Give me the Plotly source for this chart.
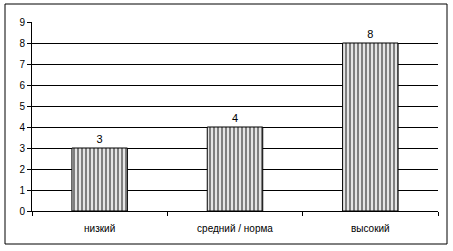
import plotly.graph_objects as go

categories = ["низкий", "средний / норма", "высокий"]
values = [3, 4, 8]
y_ticks = [0, 1, 2, 3, 4, 5, 6, 7, 8, 9]
grid_ticks = [1, 2, 3, 4, 5, 6, 7, 8]

W, H = 453, 251
ml, mr, mt, mb = 32, 15, 22, 40
pw, ph = W - ml - mr, H - mt - mb

fig = go.Figure()
# invisible trace to drive the grid axis (drawn beneath)
fig.add_trace(go.Scatter(x=categories, y=values, yaxis="y", mode="markers",
                         marker=dict(opacity=0), hoverinfo="skip", showlegend=False))
fig.add_trace(go.Bar(
    x=categories, y=values, yaxis="y2",
    width=0.41,
    marker=dict(color="white", line=dict(color="black", width=1),
                pattern=dict(shape="|", size=4, solidity=0.6, fgcolor="black", bgcolor="white")),
    text=[str(v) for v in values], textposition="outside",
    textfont=dict(family="Liberation Sans, Arial", size=11, color="black"),
    cliponaxis=False,
))

fig.update_layout(
    width=W, height=H,
    margin=dict(l=ml, r=mr, t=mt, b=mb),
    paper_bgcolor="white", plot_bgcolor="white",
    showlegend=False,
    font=dict(family="Liberation Sans, Arial", size=10, color="black"),
    xaxis=dict(type="category", showline=True, linecolor="black", linewidth=1,
               ticks="outside", tickson="boundaries", ticklen=4, tickcolor="black",
               showgrid=False, tickfont=dict(size=10), ticklabelstandoff=8),
    yaxis=dict(range=[0, 9], tickvals=grid_ticks, showgrid=True,
               gridcolor="black", gridwidth=1, showticklabels=False,
               zeroline=False, showline=False, ticks=""),
    yaxis2=dict(range=[0, 9], overlaying="y", side="left", tickvals=y_ticks,
                showgrid=False, showline=True, linecolor="black", linewidth=1,
                ticks="outside", ticklen=4, tickcolor="black", zeroline=False,
                tickfont=dict(size=10)),
    bargap=0.59,
    shapes=[dict(type="rect", xref="paper", yref="paper",
                 x0=(5 - ml) / pw, x1=(447 - ml) / pw,
                 y0=(H - mb - 244) / ph, y1=(H - mb - 4) / ph,
                 line=dict(color="black", width=1), layer="below")],
)
fig.write_html("out.html")
